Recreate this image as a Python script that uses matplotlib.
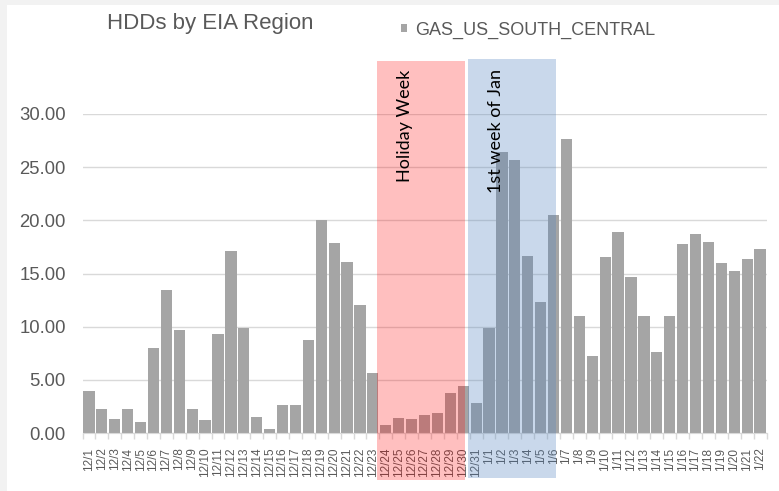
import matplotlib
matplotlib.use("Agg")
import matplotlib.pyplot as plt
from matplotlib.patches import Rectangle

# Heating degree days, South Central region
dates = [f"12/{d}" for d in range(1, 32)] + [f"1/{d}" for d in range(1, 23)]
hdd_dec = [3.92, 2.26, 1.32, 2.26, 1.07, 7.97, 13.49, 9.70, 2.26, 1.22,
           9.35, 17.10, 9.88, 1.47, 0.35, 2.60, 2.60, 8.75, 20.05, 17.88,
           16.07, 12.02, 5.62, 0.72, 1.38, 1.29, 1.66, 1.85, 3.73, 4.42,
           2.86]
hdd_jan = [9.88, 26.42, 25.67, 16.60, 12.30, 20.49, 27.64, 10.98, 7.28, 16.54,
           18.86, 14.68, 10.98, 7.59, 10.98, 17.73, 18.67, 17.98, 16.00, 15.22,
           16.41, 17.35]
hdd = hdd_dec + hdd_jan
series_name = "GAS_US_SOUTH_CENTRAL"

# highlighted periods (bar index ranges)
holiday_span = (22.3, 29.15)
jan_span = (29.38, 36.2)

W, H = 779, 491
fig = plt.figure(figsize=(W / 100, H / 100), dpi=100, facecolor="#F2F2F2")
fig.add_artist(Rectangle((7 / W, 0), 1 - 7 / W, 1 - 5 / H, transform=fig.transFigure,
                         facecolor="white", edgecolor="none", zorder=-10))

ax = fig.add_axes([82.5 / W, 1 - 433 / H, (766.5 - 82.5) / W, (433 - 114) / H])
ax.set_facecolor("none")

grey_txt = "#595959"
x = list(range(len(dates)))
bars = ax.bar(x, hdd, width=0.87, color="#A5A5A5", zorder=2, label=series_name)

ax.set_xlim(-0.5, len(dates) - 0.5)
ax.set_ylim(0, 30)
ax.set_yticks([0, 5, 10, 15, 20, 25, 30])
ax.set_yticklabels([f"{v:.2f}" for v in [0, 5, 10, 15, 20, 25, 30]],
                   fontsize=13.3, color=grey_txt, family="Liberation Sans")
ax.tick_params(axis="y", length=0, pad=12)
ax.grid(axis="y", color="#D9D9D9", linewidth=1, zorder=0)

ax.set_xticks(x)
ax.set_xticklabels(dates, rotation=90, fontsize=8.5, color=grey_txt, family="Liberation Sans")
ax.tick_params(axis="x", which="major", length=0, pad=10.5)
ax.set_xticks([i + 0.5 for i in range(-1, len(dates))], minor=True)
ax.tick_params(axis="x", which="minor", length=4, color="#D9D9D9", width=1)

for s in ["top", "right", "left"]:
    ax.spines[s].set_visible(False)
ax.spines["bottom"].set_color("#D9D9D9")

# overlay boxes
ax.add_patch(Rectangle((holiday_span[0], -4.42), holiday_span[1] - holiday_span[0], 39.4,
                       facecolor="red", alpha=0.25, edgecolor="none", clip_on=False, zorder=3))
ax.add_patch(Rectangle((jan_span[0], -4.2), jan_span[1] - jan_span[0], 39.4,
                       facecolor="#4F81BD", alpha=0.3, edgecolor="none", clip_on=False, zorder=3))
ax.text(24.5, 28.9, "Holiday Week", rotation=90, ha="center", va="center",
        fontsize=13, family="Lato", color="black", zorder=4, clip_on=False)
ax.text(31.55, 28.4, "1st week of Jan", rotation=90, ha="center", va="center",
        fontsize=13, family="Lato", color="black", zorder=4, clip_on=False)

fig.text(210 / W, 1 - 23 / H, "HDDs by EIA Region", ha="center", va="center",
         fontsize=16, color=grey_txt, family="Liberation Sans")
ax.legend(handles=[bars], loc="center left", bbox_to_anchor=(401 / W, 1 - 30 / H),
          bbox_transform=fig.transFigure, frameon=False,
          labelcolor=grey_txt, handlelength=0.35, handleheight=0.35,
          handletextpad=0.45, borderpad=0, borderaxespad=0,
          prop={"family": "Liberation Sans", "size": 13})

fig.savefig("out.png", dpi=100, facecolor=fig.get_facecolor())
